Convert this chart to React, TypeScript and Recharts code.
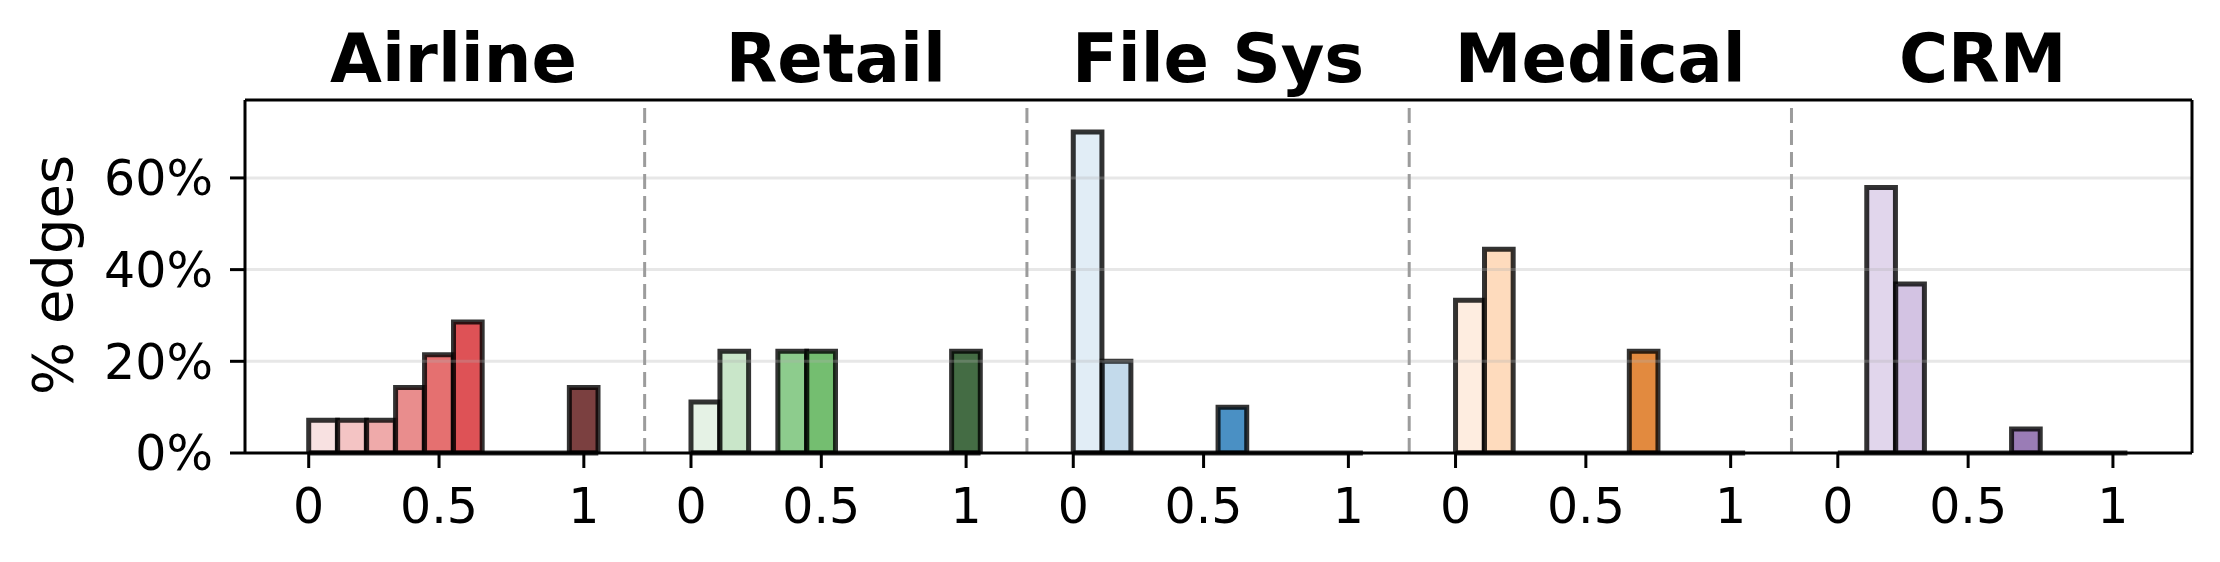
import React from 'react';
import { ComposedChart, Bar, Cell, XAxis, YAxis, ReferenceLine } from 'recharts';

// ---------- data ----------
const GROUPS = ['Airline', 'Retail', 'File Sys', 'Medical', 'CRM'];
const TICK_LABELS = ['0', '0.5', '1'];
const TICK_BINS = [0, 4.5, 9.5];
const Y_TICKS = [0, 20, 40, 60];

// % of edges per bin (10 bins per domain)
const airline = [7.14, 7.14, 7.14, 14.29, 21.43, 28.57, 0, 0, 0, 14.29];
const retail = [11.11, 22.22, 0, 22.22, 22.22, 0, 0, 0, 0, 22.22];
const fileSys = [70, 20, 0, 0, 0, 10, 0, 0, 0, 0];
const medical = [33.33, 44.44, 0, 0, 0, 0, 22.22, 0, 0, 0];
const crm = [0, 57.89, 36.84, 0, 0, 0, 5.26, 0, 0, 0];

// ---------- styles ----------
const airlineColors = ['#f6dada', '#f1b5b5', '#eb9595', '#e47171', '#de4c4c', '#d6272c', '#b02024', '#8a191c', '#731518', '#5a1010'];
const retailColors = ['#deefde', '#bbe0bb', '#96d096', '#70bf70', '#51ae4c', '#2ca02c', '#248324', '#1c661c', '#185418', '#154715'];
const fileColors = ['#dae8f4', '#b4d1e6', '#8fbad9', '#6aa3cc', '#4490c0', '#1d74b5', '#195f90', '#134870', '#103a5b', '#0c2c45'];
const medicalColors = ['#fee8d8', '#fed2ad', '#ffbb85', '#ffa55e', '#ff9136', '#ff7f0e', '#db6d0f', '#b55a0c', '#94490a', '#733908'];
const crmColors = ['#ece4f3', '#dacce7', '#c8b4dc', '#b69ed0', '#a582c6', '#9467bd', '#815ba4', '#6c4c89', '#583e70', '#442f56'];

const GROUP_VALUES = [airline, retail, fileSys, medical, crm];
const GROUP_COLORS = [airlineColors, retailColors, fileColors, medicalColors, crmColors];

// layout (in bin units on the x axis)
const GROUP_STEP = 13.2;
const BINS = 10;
const SEP_OFFSET = 11.6;
const XMIN = -2.2;
const XMAX = 65.03;
const YMAX = 77;

const CHART_W = 2204;
const CHART_H = 546;
const MARGIN = { top: 92, right: 20, bottom: 41, left: 0 };
const Y_AXIS_W = 237;
const X_AXIS_H = 60;
const PLOT_W = CHART_W - MARGIN.left - MARGIN.right - Y_AXIS_W;
const BAR_SIZE = PLOT_W / (XMAX - XMIN) - 0.3;

const FONT = 'DejaVu Sans';

const rows = GROUP_VALUES.flatMap((vals, g) =>
  vals.map((v, i) => ({ x: g * GROUP_STEP + i + 0.5, v, color: GROUP_COLORS[g][i] }))
);

const xTicks = GROUPS.flatMap((_, g) => TICK_BINS.map((t) => g * GROUP_STEP + t));

export default function App() {
  return (
    <div style={{ position: 'relative', width: CHART_W, height: CHART_H }}>
      <ComposedChart
        width={CHART_W}
        height={CHART_H}
        data={rows}
        margin={MARGIN}
        style={{ fontFamily: FONT }}
      >
        <XAxis
          dataKey="x"
          type="number"
          domain={[XMIN, XMAX]}
          allowDataOverflow
          ticks={xTicks}
          interval={0}
          tickFormatter={(v: number, i: number) => TICK_LABELS[i % 3]}
          height={X_AXIS_H}
          tickSize={15}
          tickMargin={20}
          axisLine={{ stroke: '#000', strokeWidth: 3 }}
          tickLine={{ stroke: '#000', strokeWidth: 3 }}
          tick={{ fill: '#000', fontSize: 49, fontFamily: FONT }}
        />
        <YAxis
          type="number"
          domain={[0, YMAX]}
          allowDataOverflow
          ticks={Y_TICKS}
          interval={0}
          tickFormatter={(v: number) => `${v}%`}
          width={Y_AXIS_W}
          tickSize={15}
          tickMargin={17}
          axisLine={{ stroke: '#000', strokeWidth: 3 }}
          tickLine={{ stroke: '#000', strokeWidth: 3 }}
          tick={{ fill: '#000', fontSize: 49, fontFamily: FONT }}
        />
        <Bar
          dataKey="v"
          barSize={BAR_SIZE}
          isAnimationActive={false}
          stroke="#000"
          strokeOpacity={0.8}
          strokeWidth={5}
          fillOpacity={0.8}
        >
          {rows.map((r, i) => (
            <Cell key={i} fill={r.color} />
          ))}
        </Bar>
        {GROUPS.map((_, g) => (
          <ReferenceLine
            key={'base' + g}
            segment={[
              { x: g * GROUP_STEP, y: 0 },
              { x: g * GROUP_STEP + BINS, y: 0 },
            ]}
            stroke="#000"
            strokeOpacity={0.8}
            strokeWidth={5}
            ifOverflow="visible"
          />
        ))}
        {Y_TICKS.slice(1).map((t) => (
          <ReferenceLine key={'g' + t} y={t} stroke="#b0b0b0" strokeOpacity={0.3} strokeWidth={3} />
        ))}
        {GROUPS.slice(0, -1).map((_, g) => (
          <ReferenceLine
            key={'sep' + g}
            x={g * GROUP_STEP + SEP_OFFSET}
            stroke="#9c9c9c"
            strokeWidth={3}
            strokeDasharray="15 7"
          />
        ))}
        <ReferenceLine y={YMAX} stroke="#000" strokeWidth={3} ifOverflow="visible" />
        <ReferenceLine x={XMAX} stroke="#000" strokeWidth={3} ifOverflow="visible" />
        {GROUPS.map((name, g) => (
          <ReferenceLine
            key={'t' + g}
            x={g * GROUP_STEP + BINS / 2}
            stroke="none"
            ifOverflow="visible"
            label={{
              value: name,
              position: 'top',
              offset: 18,
              fill: '#000',
              fontSize: 67,
              fontWeight: 700,
              fontFamily: FONT,
            }}
          />
        ))}
      </ComposedChart>
      <div
        style={{
          position: 'absolute',
          left: 44,
          top: 267,
          transform: 'translate(-50%, -50%) rotate(-90deg)',
          fontFamily: FONT,
          fontSize: 56,
          whiteSpace: 'nowrap',
          color: '#000',
          lineHeight: 'normal',
        }}
      >
        % edges
      </div>
    </div>
  );
}
